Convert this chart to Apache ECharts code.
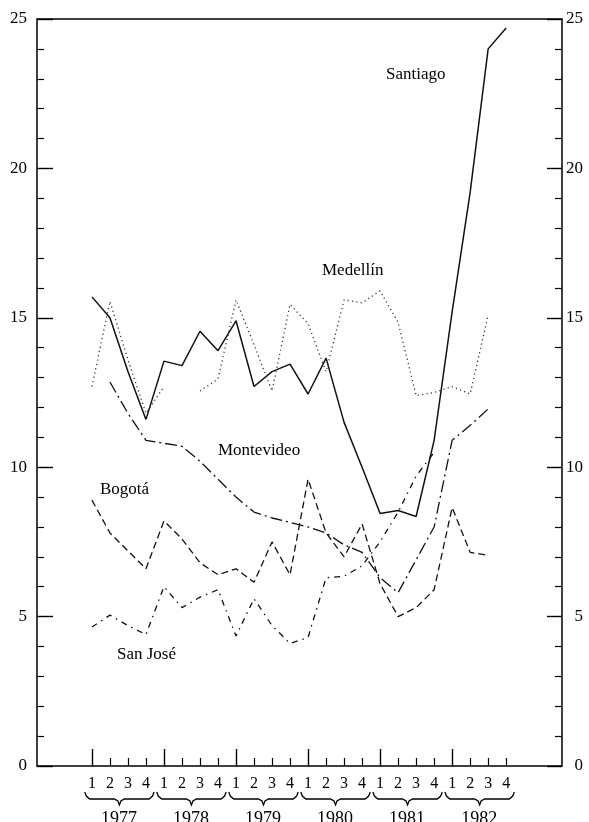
<!DOCTYPE html>
<html><head><meta charset="utf-8">
<script src="https://cdn.jsdelivr.net/npm/echarts@6/dist/echarts.min.js"></script>
<style>html,body{margin:0;padding:0;background:#fff}#c{width:589px;height:822px}</style>
</head><body><div id="c"></div>
<script>
// Quarters 1977 Q1 .. 1982 Q4
const quarterLabels = ['1','2','3','4','1','2','3','4','1','2','3','4','1','2','3','4','1','2','3','4','1','2','3','4'];
const years = ['1977','1978','1979','1980','1981','1982'];
const yTickLabels = [0,5,10,15,20,25];

const santiago   = [15.7,15.0,13.2,11.6,13.55,13.4,14.55,13.9,14.9,12.7,13.2,13.45,12.45,13.65,11.5,10.0,8.45,8.55,8.35,10.9,15.2,19.2,24.0,24.7];
const medellin   = [12.7,15.55,13.6,11.8,12.7,null,12.55,12.95,15.6,14.1,12.55,15.45,14.8,13.2,15.6,15.5,15.9,14.85,12.4,12.5,12.7,12.45,15.1,null];
const montevideo = [null,12.85,11.8,10.9,10.8,10.7,10.2,9.6,9.0,8.5,8.3,8.15,8.0,7.8,7.4,7.15,6.3,5.8,6.9,8.0,10.9,11.4,11.95,null];
const bogota     = [8.9,7.8,7.2,6.6,8.2,7.6,6.8,6.4,6.6,6.15,7.5,6.4,9.6,7.8,7.0,8.1,6.1,5.0,5.3,5.9,8.65,7.15,7.05,null];
const sanjose    = [4.65,5.05,4.7,4.4,6.0,5.3,5.65,5.9,4.35,5.6,4.7,4.1,4.3,6.3,6.35,6.7,7.5,8.5,9.7,10.5,null,null,null,null];

const FONT = '"Liberation Serif","Times New Roman",serif';
const idx = quarterLabels.map((_, i) => i);
const toData = arr => arr.map((v, i) => [i, v == null ? '-' : v]);
const q1 = idx.filter(i => i % 4 === 0);
const qOther = idx.filter(i => i % 4 !== 0);
const yearCenters = years.map((_, k) => 4 * k + 1.5);

const XMIN = -3.05, XMAX = 26.1;
const chart = echarts.init(document.getElementById('c'), null, {renderer: 'canvas'});

function lineSeries(name, arr, dash, width, color) {
  return {
    name, type: 'line', data: toData(arr), symbol: 'none', showSymbol: false,
    connectNulls: false, animation: false, silent: true,
    lineStyle: {color: color || '#111', width: width || 1.3, type: dash}
  };
}

const baseX = {
  type: 'value', min: XMIN, max: XMAX, position: 'bottom',
  axisLine: {show: false, onZero: false}, splitLine: {show: false}
};

chart.setOption({
  animation: false,
  backgroundColor: '#fff',
  grid: {left: 37, right: 27, top: 19, bottom: 56, show: true, borderColor: '#000', borderWidth: 1.5, containLabel: false, outerBoundsMode: 'none'},
  xAxis: [
    Object.assign({}, baseX, {
      axisTick: {show: true, inside: true, length: 17, customValues: q1, lineStyle: {color: '#000', width: 1.4}},
      axisLabel: {show: true, customValues: idx, formatter: v => quarterLabels[Math.round(v)] || '', margin: 10, fontSize: 16, fontFamily: FONT, color: '#000'}
    }),
    Object.assign({}, baseX, {
      axisTick: {show: true, inside: true, length: 8, customValues: qOther, lineStyle: {color: '#000', width: 1.2}},
      axisLabel: {show: false}
    }),
    Object.assign({}, baseX, {
      axisTick: {show: false},
      axisLabel: {show: true, customValues: yearCenters, formatter: v => years[Math.round((v - 1.5) / 4)] || '', margin: 44, fontSize: 18, fontFamily: FONT, color: '#000'}
    })
  ],
  yAxis: [
    {type: 'value', position: 'left', min: 0, max: 25, interval: 5,
     axisLine: {show: false, onZero: false}, splitLine: {show: false},
     axisTick: {show: true, inside: true, length: 16, lineStyle: {color: '#000', width: 1.4}},
     minorTick: {show: true, splitNumber: 5, length: 7, lineStyle: {color: '#000', width: 1.2}},
     axisLabel: {margin: 10, fontSize: 17, fontFamily: FONT, color: '#000', formatter: v => yTickLabels.includes(v) ? String(v) : ''}},
    {type: 'value', position: 'right', min: 0, max: 25, interval: 5,
     axisLine: {show: false, onZero: false}, splitLine: {show: false},
     axisTick: {show: true, inside: true, length: 15, lineStyle: {color: '#000', width: 1.4}},
     minorTick: {show: true, splitNumber: 5, length: 7, lineStyle: {color: '#000', width: 1.2}},
     axisLabel: {margin: 21, align: 'right', fontSize: 17, fontFamily: FONT, color: '#000', formatter: v => yTickLabels.includes(v) ? String(v) : ''}}
  ],
  series: [
    lineSeries('Santiago', santiago, 'solid', 1.5),
    lineSeries('Medellín', medellin, [1.2, 3.2], 1.3, '#333'),
    lineSeries('Montevideo', montevideo, [12, 4, 2, 4], 1.3),
    lineSeries('Bogotá', bogota, [7, 4], 1.3),
    lineSeries('San José', sanjose, [6, 5, 1.5, 5], 1.3)
  ]
});

// braces under each year, positioned through the x axis scale
const px = v => chart.convertToPixel({xAxisIndex: 0}, v);
const yTop = 792, yMid = 799, yTip = 805;
const braces = years.map((_, k) => {
  const x0 = px(4 * k - 0.4), x1 = px(4 * k + 3.45), xc = (x0 + x1) / 2;
  return {
    type: 'polyline', silent: true,
    shape: {points: [[x0, yTop], [x0 + 1.5, yMid - 3], [x0 + 5, yMid], [xc - 5, yMid], [xc - 1.5, yMid + 2], [xc, yTip], [xc + 1.5, yMid + 2], [xc + 5, yMid], [x1 - 5, yMid], [x1 - 1.5, yMid - 3], [x1, yTop]]},
    style: {fill: null, stroke: '#000', lineWidth: 1.3}
  };
});
const txt = (s, x, y) => ({type: 'text', x: x, y: y, silent: true,
  style: {text: s, font: '17px ' + FONT, fill: '#000', verticalAlign: 'middle', align: 'left'}});
chart.setOption({graphic: braces.concat([
  txt('Santiago', 386, 75),
  txt('Medellín', 322, 271),
  txt('Montevideo', 218, 451),
  txt('Bogotá', 100, 490),
  txt('San José', 117, 655)
])});
</script></body></html>
